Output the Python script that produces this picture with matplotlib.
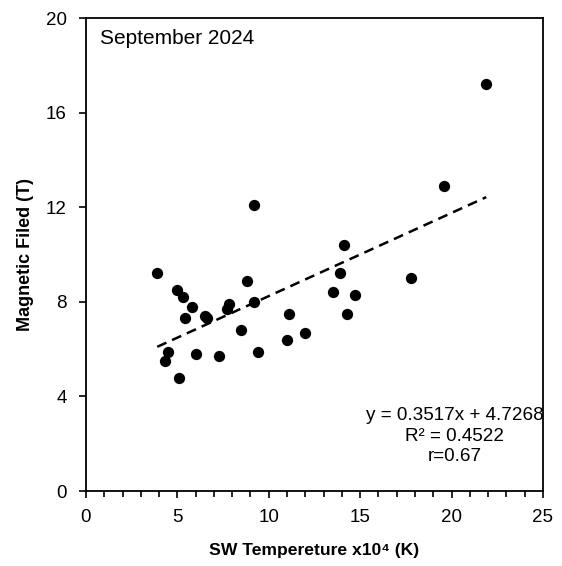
import matplotlib
matplotlib.use("Agg")
import matplotlib.pyplot as plt
from matplotlib.ticker import MultipleLocator
import numpy as np

plt.rcParams['font.family'] = ['Liberation Sans', 'DejaVu Sans']

sw_temp = [3.9, 4.3, 4.5, 5.0, 5.1, 5.3, 5.4, 5.8, 6.0, 6.5, 6.6, 7.3, 7.7, 7.8, 8.5,
           8.8, 9.2, 9.2, 9.4, 11.0, 11.1, 12.0, 13.5, 13.9, 14.1, 14.3, 14.7, 17.8, 19.6, 21.9]
mag_field = [9.2, 5.5, 5.9, 8.5, 4.8, 8.2, 7.3, 7.8, 5.8, 7.4, 7.3, 5.7, 7.7, 7.9, 6.8,
             8.9, 8.0, 12.1, 5.9, 6.4, 7.5, 6.7, 8.4, 9.2, 10.4, 7.5, 8.3, 9.0, 12.9, 17.2]
slope = 0.3517
intercept = 4.7268
r2_text = "R² = 0.4522"
r_text = "r=0.67"
x_ticks = [0, 5, 10, 15, 20, 25]
y_ticks = [0, 4, 8, 12, 16, 20]

fig = plt.figure(figsize=(5.62, 5.66), dpi=100)
ax = fig.add_axes([0.153, 0.1325, 0.813, 0.8355])

ax.scatter(sw_temp, mag_field, s=66, color='black', zorder=3, linewidths=0)
xf = np.array([min(sw_temp), max(sw_temp)])
ax.plot(xf, slope * xf + intercept, color='black', lw=1.8, dashes=(4.0, 2.5), zorder=2)

ax.set_xlim(0, 25)
ax.set_ylim(0, 20)
ax.set_xticks(x_ticks)
ax.set_yticks(y_ticks)
ax.xaxis.set_minor_locator(MultipleLocator(1))
ax.tick_params(axis='both', which='major', direction='out', length=5, width=1.2, labelsize=13.5, colors='black')
ax.tick_params(axis='x', which='major', pad=8)
ax.tick_params(axis='y', which='major', pad=9)
ax.tick_params(axis='x', which='minor', direction='out', length=4, width=1.2)
for s in ax.spines.values():
    s.set_linewidth(1.3)
    s.set_color('black')

ax.set_xlabel("SW Tempereture x10⁴ (K)", fontsize=12.6, fontweight='bold', labelpad=12)
ax.set_ylabel("Magnetic Filed (T)", fontsize=13, fontweight='bold', labelpad=8)

ax.text(0.03, 0.978, "September 2024", transform=ax.transAxes, fontsize=15, va='top', ha='left')
ax.text(0.807, 0.116, f"y = {slope}x + {intercept}\n{r2_text}\n{r_text}", transform=ax.transAxes,
        fontsize=13.6, ha='center', va='center', linespacing=1.27)

fig.savefig("out.png", dpi=100)
